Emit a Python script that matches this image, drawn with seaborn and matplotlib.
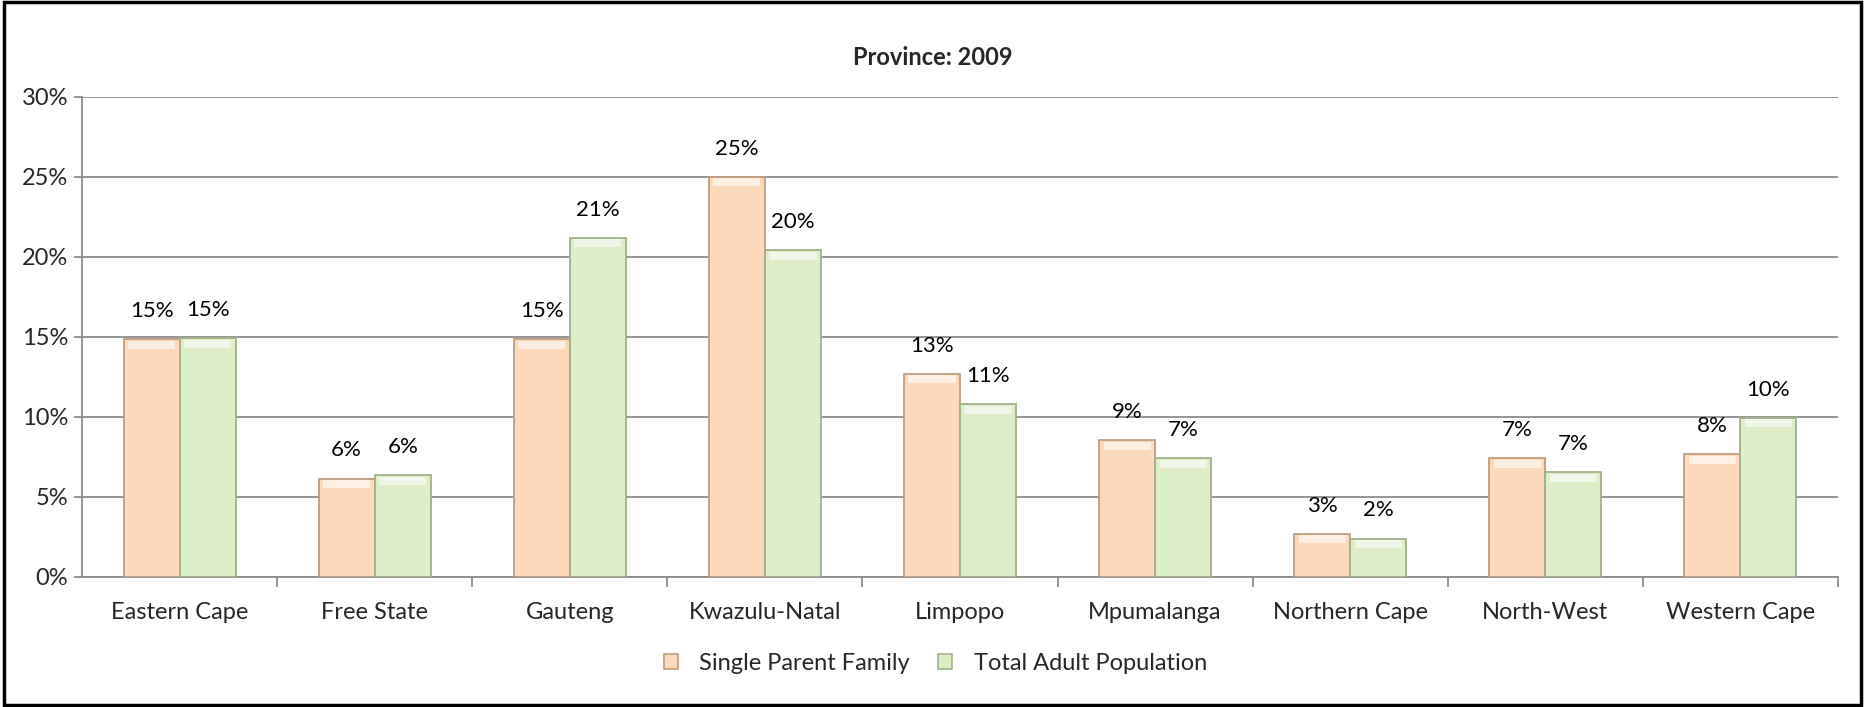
import matplotlib
matplotlib.use("Agg")
import matplotlib.pyplot as plt
import seaborn as sns
import pandas as pd
from matplotlib.ticker import FuncFormatter, FixedLocator
from matplotlib.patches import Rectangle

provinces = ["Eastern Cape", "Free State", "Gauteng", "Kwazulu-Natal", "Limpopo",
             "Mpumalanga", "Northern Cape", "North-West", "Western Cape"]
single_parent = [14.85, 6.15, 14.85, 25.0, 12.7, 8.55, 2.7, 7.4, 7.65]
total_adult = [14.9, 6.34, 21.2, 20.4, 10.8, 7.4, 2.4, 6.55, 9.95]
series_names = ["Single Parent Family", "Total Adult Population"]
title = "Province: 2009"

df = pd.DataFrame({
    "Province": provinces * 2,
    "Series": [series_names[0]] * len(provinces) + [series_names[1]] * len(provinces),
    "Value": single_parent + total_adult,
})

sns.set_theme(style="white")
plt.rcParams['font.family'] = ['Lato', 'DejaVu Sans']

fig = plt.figure(figsize=(18.65, 7.07), dpi=100)
ax = fig.add_axes([0.044, 0.184, 0.9415, 0.679])

fills = ["#FCD9B8", "#DDEDC6"]
edges = ["#C29C7C", "#A0B088"]
sns.barplot(data=df, x="Province", y="Value", hue="Series", order=provinces,
            hue_order=series_names, palette=fills, width=0.575, gap=0,
            saturation=1, ax=ax, legend=True, zorder=3)

for i, cont in enumerate(ax.containers):
    for bar in cont:
        bar.set_edgecolor(edges[i])
        bar.set_linewidth(1.3)
        x0, w, h = bar.get_x(), bar.get_width(), bar.get_height()
        ax.add_patch(Rectangle((x0 + w * 0.08, h - 0.6), w * 0.84, 0.5,
                               facecolor="white", alpha=0.6, edgecolor="none", zorder=4))
    labels = [f"{int(v + 0.5)}%" for v in cont.datavalues]
    ax.bar_label(cont, labels=labels, padding=13, fontsize=16, color="black")

ax.set_ylim(0, 30)
ax.set_xlim(-0.5, len(provinces) - 0.5)
ax.yaxis.set_major_locator(FixedLocator([0, 5, 10, 15, 20, 25, 30]))
ax.yaxis.set_major_formatter(FuncFormatter(lambda v, p: f"{v:.0f}%"))
ax.yaxis.grid(True, color="#8C8C8C", linewidth=1.3, zorder=0)
ax.set_axisbelow(True)
ax.set_xlabel("")
ax.set_ylabel("")
for s in ["top", "right"]:
    ax.spines[s].set_visible(False)
for s in ["left", "bottom"]:
    ax.spines[s].set_color("#8C8C8C")
    ax.spines[s].set_linewidth(1.3)
ax.tick_params(axis="y", which="major", length=6, color="#8C8C8C", width=1.3,
               labelsize=17, pad=4, direction="out", left=True)
ax.tick_params(axis="x", which="major", length=0, labelsize=17, pad=18)
ax.set_xticks([i + 0.5 for i in range(len(provinces))], minor=True)
ax.tick_params(axis="x", which="minor", length=7, color="#8C8C8C", width=1.3,
               direction="out", bottom=True)

leg = ax.legend(loc="center", bbox_to_anchor=(0.486, -0.18), ncol=2, frameon=False,
                fontsize=17, handlelength=0.6, handleheight=0.6, columnspacing=1.2,
                handletextpad=0.9)
for h, e in zip(leg.legend_handles, edges):
    h.set_edgecolor(e)
    h.set_linewidth(1.2)

fig.text(0.5, 0.919, title, ha="center", va="center", fontsize=17, fontweight="bold")

fig.patches.append(Rectangle((0.002, 0.003), 0.996, 0.994, transform=fig.transFigure,
                             fill=False, edgecolor="black", linewidth=2.5))

fig.savefig("out.png", dpi=100)
